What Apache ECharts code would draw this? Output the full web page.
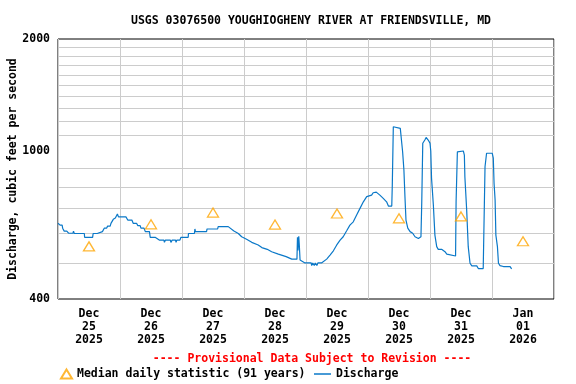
<!DOCTYPE html>
<html>
<head>
<meta charset="utf-8">
<script src="https://cdn.jsdelivr.net/npm/echarts@6.0.0/dist/echarts.min.js"></script>
<style>
html,body{margin:0;padding:0;background:#fff;}
#chart{width:576px;height:384px;}
</style>
</head>
<body>
<div id="chart"></div>
<script>
// Hours since 2025-12-25 00:00 and discharge (cubic feet per second)
var dischargeHours = [0,0.8,1.6,1.8,2.4,3.4,4.1,5.8,6.0,6.3,10.2,10.3,13.4,13.6,15.2,15.4,17.2,17.9,18.8,19.2,20.2,20.5,21.2,21.4,22.2,22.5,23.0,23.4,26.3,27,28.6,29.1,30.4,30.9,31.8,32.1,33.3,33.8,35.4,35.7,37.6,37.9,39.2,41,41.2,41.6,43.5,43.7,44.2,45.5,45.7,46,47.2,47.6,50.4,50.5,52.8,53,53.2,57.5,57.7,61.8,62,65.9,66.6,68.1,69.8,71.1,73,75,77.5,78.9,81,82.7,85.3,88.3,90.5,92.5,92.7,92.9,93.2,93.4,93.7,94.3,95.6,98,98.2,98.6,99.2,99.6,100.2,100.6,102,102.7,104,105.3,106.6,107.9,109.2,110.4,111.8,113,114.3,115.6,116.9,118.2,119.5,121.4,122,122.7,123.2,124.6,125.9,127.2,127.9,129.2,129.4,129.8,130.5,132.5,133,133.4,133.9,134.3,134.7,135.4,136.3,137.3,138.2,139.5,140.5,140.8,141.2,142,142.5,143.3,144,144.3,144.6,145.3,145.9,146.6,147.2,148.5,149.8,150.5,151.1,153.9,154.1,154.6,155,156.9,157.3,157.5,158.2,158.8,159.5,160.2,162.1,162.7,164.6,165,165.3,165.9,168.1,168.5,168.8,169.2,169.5,170.1,170.5,171.1,172.4,175,175.6];
var dischargeCfs = [639,632,632,620,609,609,601,601,609,600,600,586,586,600,600,607,607,620,620,628,628,639,645,655,660,666,677,665,665,652,652,639,639,630,630,620,620,607,607,586,586,580,576,576,568,576,576,568,576,576,568,576,576,586,586,600,600,617,607,607,617,617,626,626,620,609,600,588,579,568,559,550,544,536,528,520,512,512,586,540,590,560,509,506,500,500,492,500,492,500,492,500,500,504,512,525,539,559,576,588,611,632,645,673,701,730,754,761,772,766,775,761,746,730,711,711,806,1162,1160,1150,1142,995,889,754,652,620,607,601,588,582,588,723,1049,1070,1087,1070,1050,1000,844,716,594,553,544,544,536,528,522,522,730,995,1003,1000,975,853,694,553,499,491,491,483,483,489,907,986,986,956,818,738,594,553,499,492,489,489,482];

// Median daily statistic (91 years), plotted at noon of each day
var medianHours = [12,36,60,84,108,132,156,180];
var medianCfs = [554,635,683,634,679,659,667,572];

var dayLabels = ['Dec\n25\n2025','Dec\n26\n2025','Dec\n27\n2025','Dec\n28\n2025','Dec\n29\n2025','Dec\n30\n2025','Dec\n31\n2025','Jan\n01\n2026'];
var gridValues = [500,600,700,800,900,1100,1200,1300,1400,1500,1600,1700,1800,1900];

var titleText = 'USGS 03076500 YOUGHIOGHENY RIVER AT FRIENDSVILLE, MD';
var provisionalText = '---- Provisional Data Subject to Revision ----';
var yName = 'Discharge, cubic feet per second';

var FONT = 'DejaVu Sans Mono';
var chart = echarts.init(document.getElementById('chart'), null, {renderer:'canvas'});

var dischargeData = dischargeHours.map(function(h,i){return [h, dischargeCfs[i]];});
var medianData = medianHours.map(function(h,i){return [h, medianCfs[i]];});

chart.setOption({
  animation:false,
  backgroundColor:'#fff',
  title:[
    {text:titleText, left:306, top:10, textAlign:'center',
     textStyle:{fontFamily:FONT, fontWeight:'bold', fontSize:11.5, color:'#000'}},
    {text:provisionalText, left:307, top:348, textAlign:'center',
     textStyle:{fontFamily:FONT, fontWeight:'bold', fontSize:11.5, color:'#ff0000'}}
  ],
  legend:[
    {data:[{name:'Median daily statistic (91 years)', icon:'triangle'}],
     left:55, top:363, itemWidth:11, itemHeight:9, itemGap:5,
     textStyle:{fontFamily:FONT, fontWeight:'bold', fontSize:11.5, color:'#000'}},
    {data:[{name:'Discharge', icon:'rect'}],
     left:309, top:363, itemWidth:17, itemHeight:1.5,
     textStyle:{fontFamily:FONT, fontWeight:'bold', fontSize:11.5, color:'#000'}}
  ],
  grid:{left:58, right:22, top:39, bottom:85, outerBoundsMode:'none', containLabel:false,
    show:true, borderColor:'#000', borderWidth:1, backgroundColor:'transparent'},
  xAxis:[
    {type:'value', min:0, max:192, interval:24, gridIndex:0,
     axisLine:{show:false}, axisTick:{show:false}, axisLabel:{show:false},
     splitLine:{show:true, lineStyle:{color:'#cccccc', width:1}}},
    {type:'category', data:dayLabels, boundaryGap:true, gridIndex:0, position:'bottom',
     axisLine:{show:false}, axisTick:{show:false}, splitLine:{show:false},
     axisLabel:{interval:0, margin:9, lineHeight:12.7, fontFamily:FONT, fontWeight:'bold', fontSize:11.5, color:'#000'}}
  ],
  yAxis:{type:'log', logBase:10, min:400, max:2000,
    name:yName, nameLocation:'middle', nameGap:38.5, nameMoveOverlap:false,
    nameTextStyle:{fontFamily:FONT, fontWeight:'bold', fontSize:11.5, color:'#000'},
    axisLine:{show:false}, axisTick:{show:false}, splitLine:{show:false},
    axisLabel:{margin:8, fontFamily:FONT, fontWeight:'bold', fontSize:11.5, color:'#000',
      formatter:function(v){return String(Math.round(v));}}},
  series:[
    {type:'line', name:'gridlines', data:[], z:1, silent:true,
     markLine:{silent:true, z:1, symbol:['none','none'], label:{show:false}, animation:false,
       lineStyle:{color:'#cccccc', type:'solid', width:1},
       data:gridValues.map(function(v){return {yAxis:v};})}},
    {type:'line', name:'Discharge', data:dischargeData, xAxisIndex:0, yAxisIndex:0, z:6,
     showSymbol:false, symbol:'none', lineStyle:{color:'#0a78c8', width:1.2}, itemStyle:{color:'#0a78c8'}},
    {type:'scatter', name:'Median daily statistic (91 years)', data:medianData, xAxisIndex:0, yAxisIndex:0, z:7,
     symbol:'triangle', symbolSize:[11,9],
     itemStyle:{color:'rgba(255,255,255,0)', borderColor:'#ffa500', borderWidth:1.3}}
  ]
});
</script>
</body>
</html>
